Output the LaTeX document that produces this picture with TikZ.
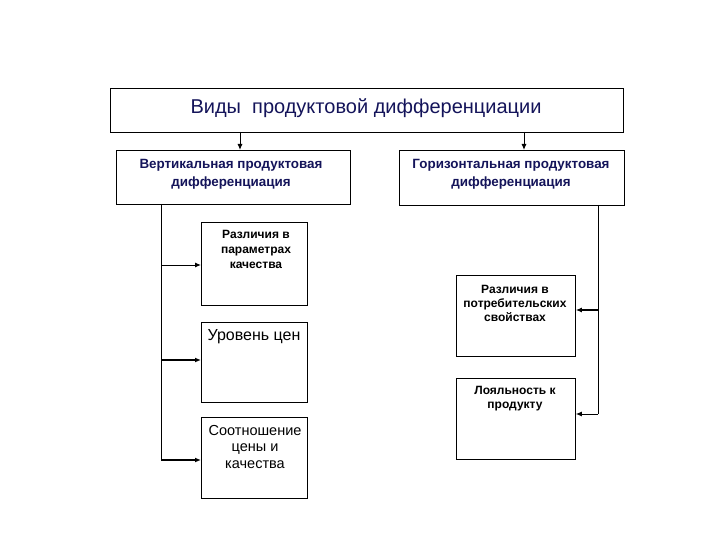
\documentclass[tikz,border=0pt]{standalone}
\usepackage{fontspec}
\setmainfont{Liberation Sans}
\usetikzlibrary{arrows.meta}
\definecolor{navy}{RGB}{20,20,90}
\tikzset{
  box/.style={draw, line width=0.8pt, rectangle, anchor=north west, inner sep=0pt},
  txt/.style={anchor=north, align=center, inner sep=0pt},
  con/.style={line width=1pt},
  arr/.style={line width=1pt, -{Latex[length=6pt,width=5pt]}},
}
\begin{document}
\begin{tikzpicture}[x=1pt,y=-1pt]
\useasboundingbox[fill=white] (0,0) rectangle (720,540);
% boxes
\node[box, minimum width=513pt, minimum height=44pt] (top) at (110,88) {};
\node[txt, font=\fontsize{20}{22}\selectfont, text=navy] (toptxt) at (366,98) {Виды\ \ продуктовой дифференциации};
\node[box, minimum width=234pt, minimum height=54pt] (vert) at (116,150) {};
\node[txt, font=\bfseries\fontsize{13.4}{18}\selectfont, text=navy] (verttxt) at (231,159) {Вертикальная продуктовая\\дифференциация};
\node[box, minimum width=225pt, minimum height=55pt] (hor) at (399,150) {};
\node[txt, font=\bfseries\fontsize{13.4}{18}\selectfont, text=navy] (hortxt) at (511,159) {Горизонтальная продуктовая\\дифференциация};
\node[box, minimum width=106pt, minimum height=83pt] (a) at (201,222) {};
\node[txt, font=\bfseries\fontsize{12}{15}\selectfont] (atxt) at (256,230) {Различия в\\параметрах\\качества};
\node[box, minimum width=106pt, minimum height=80pt] (b) at (201,322) {};
\node[txt, font=\fontsize{16}{18}\selectfont] (btxt) at (254,329) {Уровень цен};
\node[box, minimum width=119pt, minimum height=81pt] (d) at (456,275) {};
\node[txt, font=\bfseries\fontsize{12}{14}\selectfont] (dtxt) at (515,285) {Различия в\\потребительских\\свойствах};
\node[box, minimum width=106pt, minimum height=81pt] (c) at (201,417) {};
\node[txt, font=\fontsize{14.5}{16.5}\selectfont] (ctxt) at (255,425) {Соотношение\\цены и\\качества};
\node[box, minimum width=119pt, minimum height=81pt] (e) at (456,378) {};
\node[txt, font=\bfseries\fontsize{12}{14}\selectfont] (etxt) at (515,386) {Лояльность к\\продукту};
% top arrows
\coordinate (t1) at (240,132);
\coordinate (t2) at (524,132);
\draw[arr] (t1) -- (t1 |- vert.north);
\draw[arr] (t2) -- (t2 |- hor.north);
% left trunk
\coordinate (lt) at (161,204);
\coordinate (lb) at (161,460);
\coordinate (l1) at (161,265);
\coordinate (l2) at (161,360);
\draw[con] (lt) -- (lb);
\draw[arr] (l1) -- (l1 -| a.west);
\draw[arr, line width=1.5pt] (l2) -- (l2 -| b.west);
\draw[arr, line width=1.5pt] (lb) -- (lb -| c.west);
% right trunk
\coordinate (rt) at (598,205);
\coordinate (rb) at (598,414);
\coordinate (r1) at (598,310);
\draw[con] (rt) -- (rb);
\draw[arr, line width=1.5pt] (r1) -- (r1 -| d.east);
\draw[arr] (rb) -- (rb -| e.east);
\end{tikzpicture}
\end{document}
